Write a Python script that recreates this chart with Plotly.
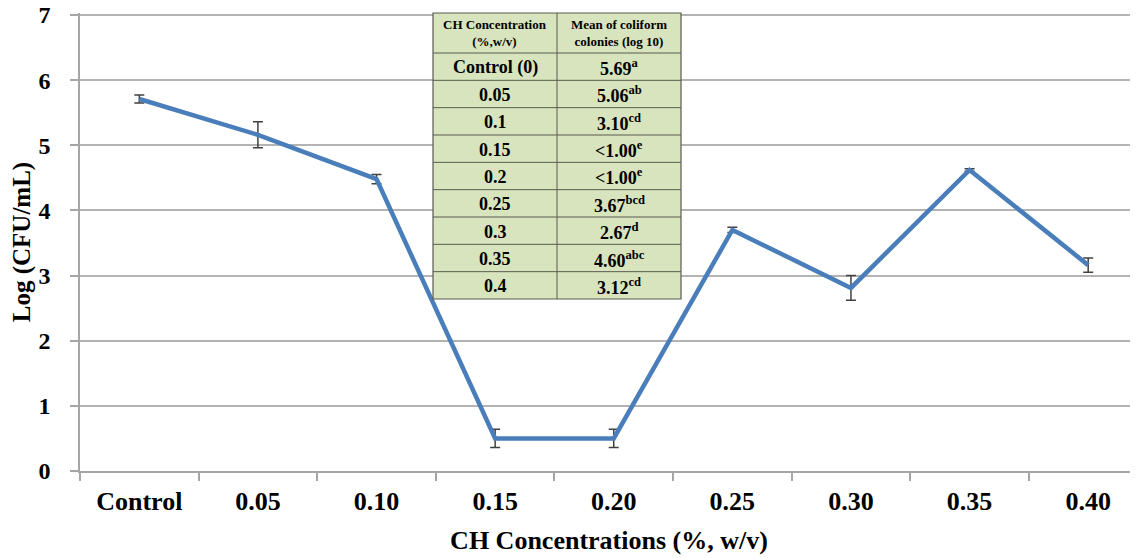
import plotly.graph_objects as go

categories = ["Control", "0.05", "0.10", "0.15", "0.20", "0.25", "0.30", "0.35", "0.40"]
log_cfu = [5.71, 5.16, 4.48, 0.50, 0.50, 3.70, 2.81, 4.62, 3.16]
err = [0.06, 0.20, 0.07, 0.14, 0.14, 0.04, 0.19, 0.02, 0.11]

tbl_header = ["CH Concentration<br>(%,w/v)", "Mean of coliform<br>colonies (log 10)"]
tbl_conc = ["Control (0)", "0.05", "0.1", "0.15", "0.2", "0.25", "0.3", "0.35", "0.4"]
tbl_mean = ["5.69", "5.06", "3.10", "<1.00", "<1.00", "3.67", "2.67", "4.60", "3.12"]
tbl_sup = ["a", "ab", "cd", "e", "e", "bcd", "d", "abc", "cd"]

# page body has an 8px margin; target plot area in window pixels: x 80..1138, y 13..471
OFF = 8
W, H = 1130, 550
L, R, T = 80 - OFF, 0, 13 - OFF
B = H - (471 - OFF)
plot_w = W - L - R
plot_h = H - T - B
serif = "Liberation Serif"
YMAX = 7.03


def px_x(p):
    return (p - OFF - L) / plot_w


def px_y(p):
    return (H - B - (p - OFF)) / plot_h


fig = go.Figure()
fig.add_trace(go.Scatter(
    x=categories, y=log_cfu, mode="lines",
    line=dict(color="#4A7EBB", width=4.5),
    error_y=dict(type="data", array=err, visible=True, color="#404040", thickness=1.5, width=5),
    showlegend=False, hoverinfo="skip",
))

# table drawn with shapes and annotations (window pixel geometry)
tx = [433, 557, 681]
header_top, header_bot, table_bot = 13, 53, 299
n_rows = len(tbl_conc)
row_h = (table_bot - header_bot) / n_rows
row_edges = [header_top, header_bot] + [header_bot + row_h * (i + 1) for i in range(n_rows)]
border = "#5B5B4F"

shapes = [dict(type="rect", xref="paper", yref="paper", layer="above",
               x0=px_x(tx[0]), x1=px_x(tx[2]), y0=px_y(table_bot), y1=px_y(header_top),
               fillcolor="#D7E4BD", line=dict(color=border, width=1.2))]
for e in row_edges[1:-1]:
    shapes.append(dict(type="line", xref="paper", yref="paper", layer="above",
                       x0=px_x(tx[0]), x1=px_x(tx[2]), y0=px_y(e), y1=px_y(e),
                       line=dict(color=border, width=1)))
shapes.append(dict(type="line", xref="paper", yref="paper", layer="above",
                   x0=px_x(tx[1]), x1=px_x(tx[1]), y0=px_y(table_bot), y1=px_y(header_top),
                   line=dict(color=border, width=1)))

annotations = []
for j, h in enumerate(tbl_header):
    annotations.append(dict(xref="paper", yref="paper", showarrow=False,
                            x=px_x((tx[j] + tx[j + 1]) / 2), y=px_y((row_edges[0] + row_edges[1]) / 2),
                            xanchor="center", yanchor="middle", text=h,
                            font=dict(family=serif, size=13, color="black", weight="bold")))
cell_mean = [m.replace("<", "&lt;") + "<sup>" + s + "</sup>" for m, s in zip(tbl_mean, tbl_sup)]
for i in range(n_rows):
    yc = px_y((row_edges[i + 1] + row_edges[i + 2]) / 2 + 1)
    for j, txt in enumerate([tbl_conc[i], cell_mean[i]]):
        annotations.append(dict(xref="paper", yref="paper", showarrow=False,
                                x=px_x((tx[j] + tx[j + 1]) / 2), y=yc,
                                xanchor="center", yanchor="middle", text=txt,
                                font=dict(family=serif, size=18, color="black", weight="bold")))

fig.update_layout(
    width=W, height=H,
    margin=dict(l=L, r=R, t=T, b=B),
    paper_bgcolor="white", plot_bgcolor="white",
    font=dict(family=serif, color="black"),
    shapes=shapes, annotations=annotations,
    xaxis=dict(
        type="category", range=[-0.5, 8.42], automargin=False,
        tickson="boundaries", ticks="outside", ticklen=8, tickcolor="#A6A6A6", tickwidth=1.5,
        showline=True, linecolor="#A6A6A6", linewidth=1.5,
        showgrid=False, zeroline=False,
        tickfont=dict(family=serif, size=26, color="black", weight="bold"),
        ticklabelstandoff=6, ticklabeloverflow="allow",
        title=dict(text="CH Concentrations (%, w/v)", standoff=16,
                   font=dict(family=serif, size=26, color="black", weight="bold")),
    ),
    yaxis=dict(
        range=[0, YMAX], tickvals=[0, 1, 2, 3, 4, 5, 6, 7], automargin=False,
        ticks="outside", ticklen=8, tickcolor="#A6A6A6", tickwidth=1.5,
        showline=True, linecolor="#A6A6A6", linewidth=1.5,
        showgrid=True, gridcolor="#B3B3B3", gridwidth=1.5, zeroline=False,
        tickfont=dict(family=serif, size=24, color="black", weight="bold"),
        ticklabelstandoff=15, ticklabeloverflow="allow",
        title=dict(text="Log (CFU/mL)", standoff=8,
                   font=dict(family=serif, size=25, color="black", weight="bold")),
    ),
)

fig.write_html("out.html")
